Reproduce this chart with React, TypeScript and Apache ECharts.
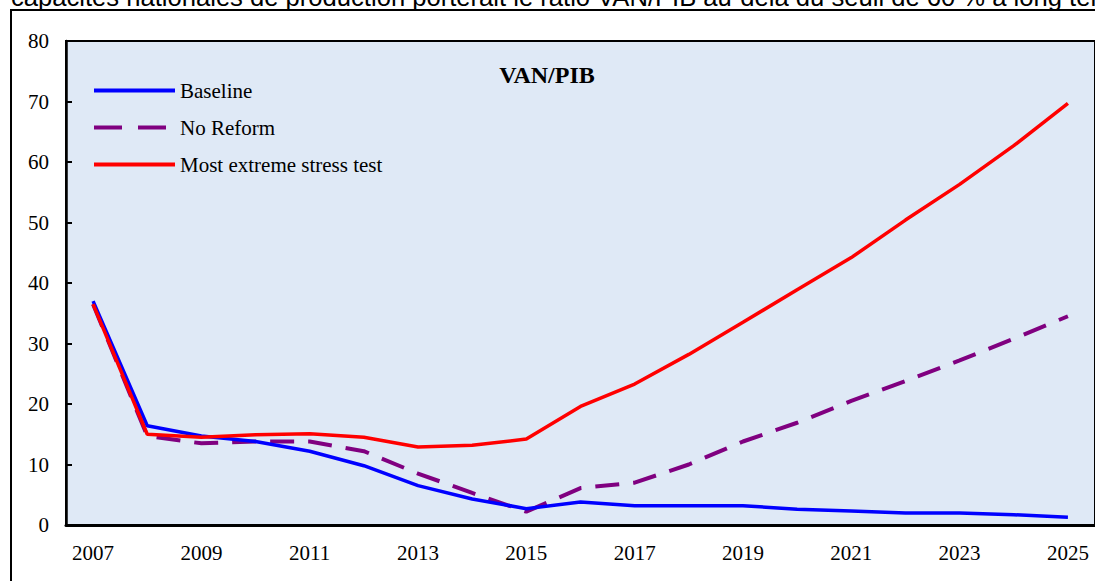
import React, { useEffect, useRef } from "react";
import * as echarts from "echarts";

const years = ["2007","2008","2009","2010","2011","2012","2013","2014","2015","2016","2017","2018","2019","2020","2021","2022","2023","2024","2025"];
const baseline = [37.0, 16.4, 14.7, 13.8, 12.2, 9.8, 6.5, 4.3, 2.7, 3.8, 3.2, 3.2, 3.2, 2.6, 2.3, 2.0, 2.0, 1.7, 1.3];
const noReform = [36.5, 14.7, 13.5, 13.8, 13.8, 12.2, 8.5, 5.3, 2.2, 6.1, 7.0, 10.0, 13.8, 16.9, 20.5, 23.8, 27.2, 30.8, 34.5];
const stressTest = [36.5, 15.0, 14.5, 14.9, 15.1, 14.5, 12.9, 13.2, 14.2, 19.6, 23.3, 28.2, 33.5, 38.9, 44.2, 50.4, 56.3, 62.7, 69.7];
const seriesNames = ["Baseline", "No Reform", "Most extreme stress test"];
const chartTitle = "VAN/PIB";
const topText = "capacités nationales de production porterait le ratio VAN/PIB au-delà du seuil de 60 % à long terme";

export default function App() {
  const ref = useRef<HTMLDivElement>(null);
  useEffect(() => {
    const chart = echarts.init(ref.current!, null, { renderer: "svg" });
    const serif = "'Liberation Serif', 'Times New Roman', serif";
    chart.setOption({
      animation: false,
      backgroundColor: "#ffffff",
      graphic: [
        {
          type: "text",
          left: 11,
          top: -16,
          style: { text: topText, font: "25.6px 'Liberation Sans', Arial, sans-serif", fill: "#000" },
          silent: true,
        },
        {
          type: "rect",
          shape: { x: 11, y: 10, width: 1200, height: 700 },
          style: { fill: "none", stroke: "#000", lineWidth: 2 },
          silent: true,
          z: 0,
        },
        {
          type: "text",
          x: 547,
          y: 75,
          style: { text: chartTitle, font: `bold 24px ${serif}`, fill: "#000", align: "center", verticalAlign: "middle" },
          z: 10,
        },
      ],
      legend: {
        orient: "vertical",
        left: 87,
        top: 75,
        itemWidth: 81,
        itemHeight: 18,
        itemGap: 16,
        itemStyle: { opacity: 0 },
        lineStyle: { width: 4 },
        textStyle: { fontFamily: serif, fontSize: 21, color: "#000" },
        data: [
          { name: seriesNames[0] },
          { name: seriesNames[1], lineStyle: { width: 4, type: [28, 16] } },
          { name: seriesNames[2] },
        ],
      },
      grid: {
        left: 66,
        right: -3,
        top: 41,
        bottom: 56,
        show: true,
        backgroundColor: "#dfe9f6",
        borderColor: "#000",
        borderWidth: 2,
      },
      xAxis: {
        type: "category",
        data: years,
        boundaryGap: true,
        axisLine: { lineStyle: { color: "#000", width: 3 } },
        axisTick: { inside: true, length: 6, interval: 0, lineStyle: { color: "#000", width: 2 } },
        axisLabel: { interval: 1, margin: 17, fontFamily: serif, fontSize: 21, color: "#000" },
        splitLine: { show: false },
      },
      yAxis: {
        type: "value",
        min: 0,
        max: 80,
        interval: 10,
        axisLine: { show: true, lineStyle: { color: "#000", width: 2.5 } },
        axisTick: { show: true, inside: true, length: 6, lineStyle: { color: "#000", width: 2 } },
        axisLabel: { margin: 17, fontFamily: serif, fontSize: 21, color: "#000" },
        splitLine: { show: false },
      },
      series: [
        {
          name: seriesNames[0],
          type: "line",
          data: baseline,
          symbol: "none",
          lineStyle: { color: "#0000ff", width: 3.5 },
          itemStyle: { color: "#0000ff" },
          z: 3,
        },
        {
          name: seriesNames[1],
          type: "line",
          data: noReform,
          symbol: "none",
          lineStyle: { color: "#800080", width: 4, type: [24, 14] },
          itemStyle: { color: "#800080" },
          z: 2,
        },
        {
          name: seriesNames[2],
          type: "line",
          data: stressTest,
          symbol: "none",
          lineStyle: { color: "#ff0000", width: 3.5 },
          itemStyle: { color: "#ff0000" },
          z: 4,
        },
      ],
    });
    return () => chart.dispose();
  }, []);
  return (
    <div style={{ position: "fixed", left: 0, top: 0, width: 1095, height: 581, overflow: "hidden" }}>
      <div ref={ref} style={{ width: 1095, height: 581 }} />
    </div>
  );
}
